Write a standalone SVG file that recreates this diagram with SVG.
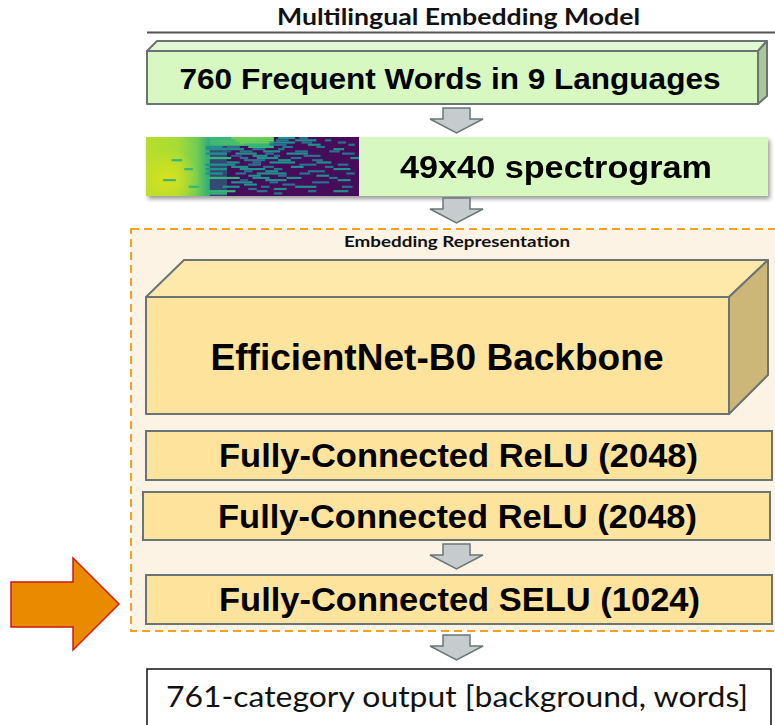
<svg xmlns="http://www.w3.org/2000/svg" width="775" height="725" viewBox="0 0 775 725">
  <style>
    .lato { font-family: Lato, "Noto Sans", sans-serif; fill: #111; }
    .arial { font-family: "Liberation Sans", Arial, sans-serif; font-weight: bold; fill: #000; }
    .edge { stroke: #6b7474; stroke-width: 2; stroke-linejoin: round; }
    .fc { fill: #fee39c; stroke: #6b7474; stroke-width: 2; }
    .flow { fill: #c6cccd; stroke: #6b7676; stroke-width: 1.5; stroke-linejoin: miter; }
    .spec rect { height: 1.5px; }
    .v1 { fill: #3b528b; } .v2 { fill: #2c728e; } .v3 { fill: #21918c; }
    .v4 { fill: #35b779; } .v5 { fill: #6ece58; }
  </style>
  <defs>
    <linearGradient id="specL" x1="0" y1="0" x2="1" y2="0">
      <stop offset="0" stop-color="#b9dd2c"/>
      <stop offset="0.5" stop-color="#a6db35"/>
      <stop offset="0.8" stop-color="#6fcd56"/>
      <stop offset="1" stop-color="#2fa77d"/>
    </linearGradient>
    <linearGradient id="specTop" x1="0" y1="0" x2="1" y2="0">
      <stop offset="0" stop-color="#3bb476"/>
      <stop offset="0.6" stop-color="#4fc16a"/>
      <stop offset="1" stop-color="#2a9b86"/>
    </linearGradient>
    <radialGradient id="specGlow" cx="0.35" cy="0.7" r="0.5">
      <stop offset="0" stop-color="#dfe31a" stop-opacity="0.85"/>
      <stop offset="1" stop-color="#dfe31a" stop-opacity="0"/>
    </radialGradient>
    <filter id="shadow" x="-5%" y="-20%" width="115%" height="160%">
      <feDropShadow dx="2" dy="3" stdDeviation="2" flood-color="#000" flood-opacity="0.4"/>
    </filter>
  </defs>

  <!-- title -->
  <g id="title">
    <text class="lato" x="458.5" y="25" font-size="22" font-weight="bold" text-anchor="middle" textLength="363" lengthAdjust="spacingAndGlyphs">Multilingual Embedding Model</text>
    <line x1="147" y1="32.5" x2="775" y2="32.5" stroke="#555" stroke-width="2"/>
  </g>

  <!-- input words (3D slab) -->
  <g id="words">
    <polygon points="147,51 157,41 767,41 758,51" fill="#e2f8d2" class="edge"/>
    <polygon points="758,51 767,41 767,96 758,104" fill="#a9c79a" class="edge"/>
    <rect x="147" y="51" width="611" height="53" fill="#d8f8c2" class="edge"/>
    <text class="arial" x="450" y="89" font-size="30" text-anchor="middle" textLength="541" lengthAdjust="spacingAndGlyphs">760 Frequent Words in 9 Languages</text>
  </g>

  <!-- spectrogram -->
  <g id="spectrogram" filter="url(#shadow)">
    <rect x="359" y="137" width="409" height="59" fill="#d8f8c2"/>
    <svg x="146" y="137" width="213" height="59" viewBox="0 0 100 40" preserveAspectRatio="none">
      <rect x="0" y="0" width="100" height="40" fill="#440a5a"/>
      <rect x="26" y="0" width="12" height="40" fill="#2a7f8c" opacity="0.55"/>
      <rect x="26" y="0" width="34" height="6" fill="url(#specTop)"/>
      <rect x="0" y="0" width="30" height="40" fill="url(#specL)"/>
      <rect x="0" y="0" width="30" height="40" fill="url(#specGlow)"/>
      <g class="spec">
        <rect y="0" x="28" width="12" class="v4"/><rect y="0" x="40" width="20" class="v5"/><rect y="0" x="62" width="8" class="v3"/><rect y="0" x="72" width="4" class="v2"/>
        <rect y="1.5" x="42" width="18" class="v5"/><rect y="1.5" x="61" width="6" class="v2"/><rect y="1.5" x="70" width="10" class="v3"/><rect y="1.5" x="84" width="3" class="v2"/>
        <rect y="3" x="44" width="14" class="v5"/><rect y="3" x="60" width="10" class="v3"/><rect y="3" x="73" width="5" class="v2"/><rect y="3" x="90" width="4" class="v2"/>
        <rect y="4.5" x="46" width="12" class="v4"/><rect y="4.5" x="58" width="8" class="v2"/><rect y="4.5" x="76" width="6" class="v3"/><rect y="4.5" x="95" width="3" class="v2"/>
        <rect y="6" x="28" width="8" class="v3"/><rect y="6" x="38" width="6" class="v2"/><rect y="6" x="48" width="12" class="v4"/><rect y="6" x="64" width="5" class="v2"/><rect y="6" x="80" width="4" class="v2"/>
        <rect y="7.5" x="28" width="18" class="v3"/><rect y="7.5" x="50" width="6" class="v2"/><rect y="7.5" x="62" width="3" class="v2"/><rect y="7.5" x="88" width="5" class="v3"/>
        <rect y="9" x="36" width="4" class="v1"/><rect y="9" x="44" width="6" class="v2"/><rect y="9" x="55" width="8" class="v3"/><rect y="9" x="70" width="6" class="v2"/><rect y="9" x="86" width="5" class="v2"/>
        <rect y="10.5" x="28" width="10" class="v3"/><rect y="10.5" x="42" width="10" class="v3"/><rect y="10.5" x="56" width="4" class="v2"/><rect y="10.5" x="66" width="10" class="v3"/><rect y="10.5" x="92" width="6" class="v2"/>
        <rect y="12" x="40" width="5" class="v1"/><rect y="12" x="50" width="7" class="v3"/><rect y="12" x="60" width="3" class="v2"/><rect y="12" x="74" width="8" class="v2"/>
        <rect y="13.5" x="28" width="12" class="v4"/><rect y="13.5" x="44" width="4" class="v2"/><rect y="13.5" x="52" width="10" class="v3"/><rect y="13.5" x="68" width="5" class="v2"/><rect y="13.5" x="96" width="4" class="v3"/>
        <rect y="15" x="46" width="10" class="v2"/><rect y="15" x="62" width="6" class="v3"/><rect y="15" x="78" width="5" class="v2"/>
        <rect y="16.5" x="38" width="6" class="v3"/><rect y="16.5" x="50" width="4" class="v2"/><rect y="16.5" x="58" width="12" class="v3"/><rect y="16.5" x="80" width="7" class="v3"/>
        <rect y="18" x="28" width="14" class="v3"/><rect y="18" x="48" width="6" class="v2"/><rect y="18" x="72" width="8" class="v2"/><rect y="18" x="90" width="5" class="v2"/>
        <rect y="19.5" x="40" width="8" class="v3"/><rect y="19.5" x="55" width="5" class="v2"/><rect y="19.5" x="68" width="6" class="v3"/><rect y="19.5" x="84" width="4" class="v2"/>
        <rect y="21" x="28" width="10" class="v3"/><rect y="21" x="44" width="12" class="v3"/><rect y="21" x="60" width="4" class="v2"/><rect y="21" x="88" width="8" class="v3"/>
        <rect y="22.5" x="46" width="4" class="v2"/><rect y="22.5" x="56" width="6" class="v3"/><rect y="22.5" x="76" width="8" class="v2"/>
        <rect y="24" x="28" width="8" class="v3"/><rect y="24" x="42" width="5" class="v2"/><rect y="24" x="52" width="14" class="v3"/><rect y="24" x="72" width="5" class="v2"/><rect y="24" x="94" width="4" class="v2"/>
        <rect y="25.5" x="48" width="6" class="v3"/><rect y="25.5" x="62" width="4" class="v2"/><rect y="25.5" x="80" width="6" class="v3"/>
        <rect y="27" x="28" width="16" class="v4"/><rect y="27" x="50" width="8" class="v3"/><rect y="27" x="66" width="7" class="v3"/><rect y="27" x="86" width="4" class="v2"/>
        <rect y="28.5" x="44" width="4" class="v1"/><rect y="28.5" x="56" width="10" class="v3"/><rect y="28.5" x="90" width="6" class="v3"/>
        <rect y="30" x="40" width="10" class="v3"/><rect y="30" x="58" width="4" class="v2"/><rect y="30" x="78" width="8" class="v2"/>
        <rect y="31.5" x="46" width="6" class="v3"/><rect y="31.5" x="64" width="6" class="v2"/>
        <rect y="33" x="36" width="8" class="v3"/><rect y="33" x="54" width="4" class="v2"/><rect y="33" x="70" width="10" class="v3"/><rect y="33" x="92" width="5" class="v2"/>
        <rect y="34.5" x="48" width="4" class="v2"/><rect y="34.5" x="60" width="6" class="v3"/>
        <rect y="36" x="28" width="14" class="v4"/><rect y="36" x="52" width="5" class="v2"/><rect y="36" x="76" width="4" class="v2"/><rect y="36" x="88" width="7" class="v3"/>
        <rect y="37.5" x="28" width="10" class="v4"/><rect y="37.5" x="60" width="4" class="v2"/>
        <rect y="15" x="12" width="5" class="v4"/><rect y="21" x="18" width="4" class="v4"/><rect y="28.5" x="8" width="6" class="v4"/><rect y="33" x="20" width="5" class="v4"/>
      </g>
    </svg>
    <text class="arial" x="556" y="178" font-size="31" text-anchor="middle" textLength="312" lengthAdjust="spacingAndGlyphs">49x40 spectrogram</text>
  </g>

  <!-- embedding representation container -->
  <g id="embedding">
    <rect x="131" y="229" width="660" height="402" fill="#fdf3e4" stroke="#f6a21e" stroke-width="2" stroke-dasharray="8 5"/>
    <text class="lato" x="457" y="247" font-size="16" font-weight="bold" text-anchor="middle" textLength="226" lengthAdjust="spacingAndGlyphs">Embedding Representation</text>
  </g>

  <!-- backbone (3D block) -->
  <g id="backbone">
    <polygon points="146,297 184,260 768,260 729,297" fill="#fee8aa" class="edge"/>
    <polygon points="729,297 768,260 768,375 729,414" fill="#ccb779" class="edge"/>
    <rect x="146" y="297" width="583" height="117" fill="#fee39c" class="edge"/>
    <text class="arial" x="437" y="370" font-size="37" text-anchor="middle" textLength="453" lengthAdjust="spacingAndGlyphs">EfficientNet-B0 Backbone</text>
  </g>

  <g id="fc1">
    <rect x="146" y="431" width="626" height="49" class="fc"/>
    <text class="arial" x="458.5" y="467" font-size="32.5" text-anchor="middle" textLength="479" lengthAdjust="spacingAndGlyphs">Fully-Connected ReLU (2048)</text>
  </g>

  <g id="fc2">
    <rect x="143" y="492" width="627" height="48" class="fc"/>
    <text class="arial" x="457.5" y="527.5" font-size="32.5" text-anchor="middle" textLength="479" lengthAdjust="spacingAndGlyphs">Fully-Connected ReLU (2048)</text>
  </g>

  <g id="fc3">
    <rect x="146" y="575" width="626" height="49" class="fc"/>
    <text class="arial" x="459.5" y="610.5" font-size="32.5" text-anchor="middle" textLength="481" lengthAdjust="spacingAndGlyphs">Fully-Connected SELU (1024)</text>
  </g>

  <g id="output">
    <rect x="147" y="669" width="624" height="70" fill="#fff" stroke="#111" stroke-width="1.5"/>
    <text class="lato" x="457" y="707" font-size="28" text-anchor="middle" textLength="582" lengthAdjust="spacingAndGlyphs">761-category output [background, words]</text>
  </g>

  <!-- highlight pointer -->
  <g id="pointer">
    <path d="M11,582 H73 V558 L119,604 L73,650 V627 H11 Z" fill="#e98a00" stroke="#cc1a10" stroke-width="1.5" stroke-linejoin="miter"/>
  </g>

  <!-- flow arrows between stages -->
  <g id="connectors">
    <path class="flow" d="M443,108 H470 V119 H483 L456.5,133 L430,119 H443 Z"/>
    <path class="flow" d="M443,198 H470 V209 H483 L456.5,223 L430,209 H443 Z"/>
    <path class="flow" d="M443,544 H470 V555 H483 L456.5,569 L430,555 H443 Z"/>
    <path class="flow" d="M443,635 H470 V646 H483 L456.5,660 L430,646 H443 Z"/>
  </g>
</svg>
